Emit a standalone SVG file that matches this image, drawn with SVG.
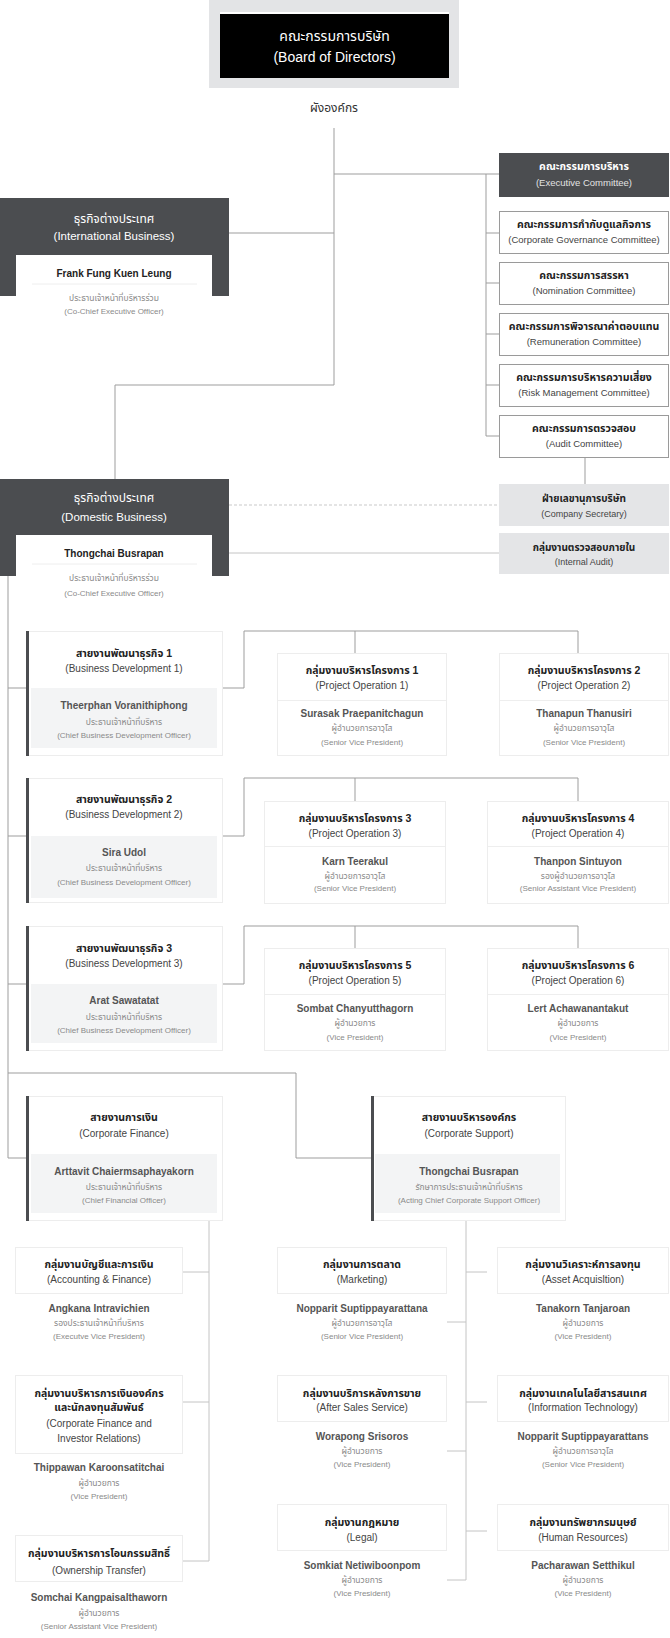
<svg xmlns="http://www.w3.org/2000/svg" width="670" height="1638" viewBox="0 0 670 1638">
<style>
text{font-family:"Liberation Sans","Noto Sans Thai","Noto Sans",sans-serif;text-anchor:middle}
.dk{fill:#4b4d50}
.ln{stroke:#9d9d9d;stroke-width:1;fill:none}
.dash{stroke:#c9c9c9;stroke-width:1;stroke-dasharray:3 2;fill:none}
.cm{fill:#fff;stroke:#9a9a9a;stroke-width:1}
.gy{fill:#e4e5e7}
.card{fill:#fff;stroke:#ededed;stroke-width:1}
.pnl{fill:#f3f4f5}
.sep{stroke:#eeeeee;stroke-width:1}
.w14{font-size:14px;fill:#fff}
.w12{font-size:12px;fill:#fff}
.w11{font-size:11.5px;fill:#fff}
.wh{font-size:10.5px;font-weight:bold;fill:#fff}
.ws{font-size:9.5px;fill:#e2e2e2}
.h{font-size:10.5px;font-weight:bold;fill:#222}
.s{font-size:10px;fill:#444}
.s9{font-size:9.5px;fill:#444}
.n{font-size:10px;font-weight:bold;fill:#555}
.nb{font-size:10px;font-weight:bold;fill:#222}
.r{font-size:8.5px;fill:#8a8a8a}
.re{font-size:8px;fill:#8a8a8a}
.lbl{font-size:12px;fill:#333}
</style>

<g id="connectors">
  <path class="ln" d="M334 128V385M334 174H499M486 174V436M486 233H499M486 283H499M486 334H499M486 385H499M486 436H499"/>
  <path class="ln" d="M229 233H334M334 385H115V479"/>
  <path class="ln" d="M585 458V484"/>
  <path class="dash" d="M229 505H499"/>
  <path class="ln" d="M229 553H499" style="stroke:#c4c4c4"/>
  <path class="ln" d="M8 576V1158H26M8 688H26M8 836H26M8 984H26M8 1073H296V1158H371"/>
  <path class="ln" d="M223 688H244V631H578M355 631V653M578 631V653"/>
  <path class="ln" d="M223 836H244V778H578M355 778V801M578 778V801"/>
  <path class="ln" d="M223 984H244V926H578M355 926V948M578 926V948"/>
  <path class="ln" d="M209 1220V1561H183M183 1272H209M183 1402H209" style="stroke:#c4c4c4"/>
  <path class="ln" d="M466 1220V1580H447M466 1272H487M447 1322H466M466 1402H487M447 1451H466M466 1531H487" style="stroke:#c4c4c4"/>
</g>

<g id="board">
  <rect x="209" y="0" width="250" height="88" fill="#e3e4e6"/>
  <rect x="220" y="12" width="229" height="66" fill="#fff"/>
  <rect x="220" y="14" width="229" height="64" fill="#000"/>
  <text x="334.5" y="41" class="w14">คณะกรรมการบริษัท</text>
  <text x="334.5" y="62" class="w14">(Board of Directors)</text>
</g>
<g id="chart-label"><text x="334" y="112" class="lbl">ผังองค์กร</text></g>

<g id="exec-committee">
  <rect x="499" y="153" width="170" height="44" class="dk"/>
  <text x="584" y="170" class="wh">คณะกรรมการบริหาร</text>
  <text x="584" y="185.5" class="ws">(Executive Committee)</text>
</g>
<g id="gov-committee">
  <rect x="499.5" y="211.5" width="169" height="42" class="cm"/>
  <text x="584" y="227.7" class="h">คณะกรรมการกำกับดูแลกิจการ</text>
  <text x="584" y="242.5" class="s9">(Corporate Governance Committee)</text>
</g>
<g id="nom-committee">
  <rect x="499.5" y="262.5" width="169" height="42" class="cm"/>
  <text x="584" y="278.7" class="h">คณะกรรมการสรรหา</text>
  <text x="584" y="293.5" class="s9">(Nomination Committee)</text>
</g>
<g id="rem-committee">
  <rect x="499.5" y="313.5" width="169" height="42" class="cm"/>
  <text x="584" y="329.7" class="h">คณะกรรมการพิจารณาค่าตอบแทน</text>
  <text x="584" y="344.5" class="s9">(Remuneration Committee)</text>
</g>
<g id="risk-committee">
  <rect x="499.5" y="364.5" width="169" height="42" class="cm"/>
  <text x="584" y="380.7" class="h">คณะกรรมการบริหารความเสี่ยง</text>
  <text x="584" y="395.5" class="s9">(Risk Management Committee)</text>
</g>
<g id="audit-committee">
  <rect x="499.5" y="415.5" width="169" height="42" class="cm"/>
  <text x="584" y="431.7" class="h">คณะกรรมการตรวจสอบ</text>
  <text x="584" y="446.5" class="s9">(Audit Committee)</text>
</g>
<g id="company-secretary">
  <rect x="499" y="484" width="170" height="42" class="gy"/>
  <text x="584" y="501.7" class="h" style="font-size:10px">ฝ่ายเลขานุการบริษัท</text>
  <text x="584" y="516.5" class="s" style="font-size:9px">(Company Secretary)</text>
</g>
<g id="internal-audit">
  <rect x="499" y="533" width="170" height="41" class="gy"/>
  <text x="584" y="550.7" class="h" style="font-size:10px">กลุ่มงานตรวจสอบภายใน</text>
  <text x="584" y="564.5" class="s" style="font-size:9px">(Internal Audit)</text>
</g>

<g id="international-business">
  <rect x="0" y="198" width="229" height="98" class="dk"/>
  <rect x="16" y="255" width="196" height="72" fill="#fff"/>
  <text x="114" y="223" class="w12">ธุรกิจต่างประเทศ</text>
  <text x="114" y="240" class="w11">(International Business)</text>
  <text x="114" y="276.5" class="nb">Frank Fung Kuen Leung</text>
  <line x1="32" y1="284" x2="197" y2="284" class="sep"/>
  <text x="114" y="301" class="r">ประธานเจ้าหน้าที่บริหารร่วม</text>
  <text x="114" y="314" class="re">(Co-Chief Executive Officer)</text>
</g>
<g id="domestic-business">
  <rect x="0" y="479" width="229" height="97" class="dk"/>
  <rect x="16" y="535" width="196" height="72" fill="#fff"/>
  <text x="114" y="502" class="w12">ธุรกิจต่างประเทศ</text>
  <text x="114" y="521" class="w11">(Domestic Business)</text>
  <text x="114" y="556.5" class="nb">Thongchai Busrapan</text>
  <line x1="32" y1="564" x2="197" y2="564" class="sep"/>
  <text x="114" y="581" class="r">ประธานเจ้าหน้าที่บริหารร่วม</text>
  <text x="114" y="596" class="re">(Co-Chief Executive Officer)</text>
</g>

<g id="bd1">
  <rect x="26.5" y="631.5" width="196" height="124" class="card"/>
  <rect x="31" y="688" width="186" height="60" class="pnl"/>
  <rect x="26" y="631" width="3" height="125" class="dk"/>
  <text x="124" y="656.7" class="h">สายงานพัฒนาธุรกิจ 1</text>
  <text x="124" y="671.5" class="s">(Business Development 1)</text>
  <text x="124" y="709.3" class="n">Theerphan Voranithiphong</text>
  <text x="124" y="725" class="r">ประธานเจ้าหน้าที่บริหาร</text>
  <text x="124" y="737.8" class="re">(Chief Business Development Officer)</text>
</g>
<g id="bd2">
  <rect x="26.5" y="778.5" width="196" height="124" class="card"/>
  <rect x="31" y="836" width="186" height="62" class="pnl"/>
  <rect x="26" y="778" width="3" height="125" class="dk"/>
  <text x="124" y="802.7" class="h">สายงานพัฒนาธุรกิจ 2</text>
  <text x="124" y="817.5" class="s">(Business Development 2)</text>
  <text x="124" y="856.3" class="n">Sira Udol</text>
  <text x="124" y="871" class="r">ประธานเจ้าหน้าที่บริหาร</text>
  <text x="124" y="884.8" class="re">(Chief Business Development Officer)</text>
</g>
<g id="bd3">
  <rect x="26.5" y="926.5" width="196" height="124" class="card"/>
  <rect x="31" y="984" width="186" height="59" class="pnl"/>
  <rect x="26" y="926" width="3" height="125" class="dk"/>
  <text x="124" y="951.7" class="h">สายงานพัฒนาธุรกิจ 3</text>
  <text x="124" y="966.5" class="s">(Business Development 3)</text>
  <text x="124" y="1004.3" class="n">Arat Sawatatat</text>
  <text x="124" y="1020" class="r">ประธานเจ้าหน้าที่บริหาร</text>
  <text x="124" y="1032.8" class="re">(Chief Business Development Officer)</text>
</g>

<g id="po1">
  <rect x="277.5" y="653.5" width="169" height="102" class="card"/>
  <line x1="278" y1="700.5" x2="446" y2="700.5" class="sep"/>
  <text x="362" y="673.7" class="h">กลุ่มงานบริหารโครงการ 1</text>
  <text x="362" y="688.5" class="s">(Project Operation 1)</text>
  <text x="362" y="717.3" class="n">Surasak Praepanitchagun</text>
  <text x="362" y="731" class="r">ผู้อำนวยการอาวุโส</text>
  <text x="362" y="744.8" class="re">(Senior Vice President)</text>
</g>
<g id="po2">
  <rect x="499.5" y="653.5" width="169" height="102" class="card"/>
  <line x1="500" y1="700.5" x2="668" y2="700.5" class="sep"/>
  <text x="584" y="673.7" class="h">กลุ่มงานบริหารโครงการ 2</text>
  <text x="584" y="688.5" class="s">(Project Operation 2)</text>
  <text x="584" y="717.3" class="n">Thanapun Thanusiri</text>
  <text x="584" y="731" class="r">ผู้อำนวยการอาวุโส</text>
  <text x="584" y="744.8" class="re">(Senior Vice President)</text>
</g>
<g id="po3">
  <rect x="264.5" y="801.5" width="181" height="102" class="card"/>
  <line x1="265" y1="846.5" x2="445" y2="846.5" class="sep"/>
  <text x="355" y="821.7" class="h">กลุ่มงานบริหารโครงการ 3</text>
  <text x="355" y="836.5" class="s">(Project Operation 3)</text>
  <text x="355" y="865.3" class="n">Karn Teerakul</text>
  <text x="355" y="879" class="r">ผู้อำนวยการอาวุโส</text>
  <text x="355" y="890.8" class="re">(Senior Vice President)</text>
</g>
<g id="po4">
  <rect x="487.5" y="801.5" width="181" height="102" class="card"/>
  <line x1="488" y1="846.5" x2="668" y2="846.5" class="sep"/>
  <text x="578" y="821.7" class="h">กลุ่มงานบริหารโครงการ 4</text>
  <text x="578" y="836.5" class="s">(Project Operation 4)</text>
  <text x="578" y="865.3" class="n">Thanpon Sintuyon</text>
  <text x="578" y="879" class="r">รองผู้อำนวยการอาวุโส</text>
  <text x="578" y="890.8" class="re">(Senior Assistant Vice President)</text>
</g>
<g id="po5">
  <rect x="264.5" y="948.5" width="181" height="102" class="card"/>
  <line x1="265" y1="994.5" x2="445" y2="994.5" class="sep"/>
  <text x="355" y="968.7" class="h">กลุ่มงานบริหารโครงการ 5</text>
  <text x="355" y="983.5" class="s">(Project Operation 5)</text>
  <text x="355" y="1012.3" class="n">Sombat Chanyutthagorn</text>
  <text x="355" y="1026" class="r">ผู้อำนวยการ</text>
  <text x="355" y="1039.8" class="re">(Vice President)</text>
</g>
<g id="po6">
  <rect x="487.5" y="948.5" width="181" height="102" class="card"/>
  <line x1="488" y1="994.5" x2="668" y2="994.5" class="sep"/>
  <text x="578" y="968.7" class="h">กลุ่มงานบริหารโครงการ 6</text>
  <text x="578" y="983.5" class="s">(Project Operation 6)</text>
  <text x="578" y="1012.3" class="n">Lert Achawanantakut</text>
  <text x="578" y="1026" class="r">ผู้อำนวยการ</text>
  <text x="578" y="1039.8" class="re">(Vice President)</text>
</g>

<g id="corporate-finance">
  <rect x="26.5" y="1096.5" width="196" height="124" class="card"/>
  <rect x="31" y="1154" width="186" height="59" class="pnl"/>
  <rect x="26" y="1096" width="3" height="125" class="dk"/>
  <text x="124" y="1120.7" class="h">สายงานการเงิน</text>
  <text x="124" y="1136.5" class="s">(Corporate Finance)</text>
  <text x="124" y="1175.3" class="n">Arttavit Chaiermsaphayakorn</text>
  <text x="124" y="1190" class="r">ประธานเจ้าหน้าที่บริหาร</text>
  <text x="124" y="1202.8" class="re">(Chief Financial Officer)</text>
</g>
<g id="corporate-support">
  <rect x="371.5" y="1096.5" width="194" height="124" class="card"/>
  <rect x="375" y="1154" width="185" height="59" class="pnl"/>
  <rect x="371" y="1096" width="3" height="125" class="dk"/>
  <text x="469" y="1120.7" class="h">สายงานบริหารองค์กร</text>
  <text x="469" y="1136.5" class="s">(Corporate Support)</text>
  <text x="469" y="1175.3" class="n">Thongchai Busrapan</text>
  <text x="469" y="1190" class="r">รักษาการประธานเจ้าหน้าที่บริหาร</text>
  <text x="469" y="1202.8" class="re">(Acting Chief Corporate Support Officer)</text>
</g>

<g id="accounting-finance">
  <rect x="15.5" y="1247.5" width="167" height="46" class="card"/>
  <text x="99" y="1267.7" class="h">กลุ่มงานบัญชีและการเงิน</text>
  <text x="99" y="1282.5" class="s">(Accounting &amp; Finance)</text>
  <text x="99" y="1312.3" class="n">Angkana Intravichien</text>
  <text x="99" y="1326" class="r">รองประธานเจ้าหน้าที่บริหาร</text>
  <text x="99" y="1338.8" class="re">(Executve Vice President)</text>
</g>
<g id="cf-investor-relations">
  <rect x="15.5" y="1375.5" width="167" height="78" class="card"/>
  <text x="99" y="1396.7" class="h">กลุ่มงานบริหารการเงินองค์กร</text>
  <text x="99" y="1410.7" class="h">และนักลงทุนสัมพันธ์</text>
  <text x="99" y="1426.5" class="s">(Corporate Finance and</text>
  <text x="99" y="1441.5" class="s">Investor Relations)</text>
  <text x="99" y="1471.3" class="n">Thippawan Karoonsatitchai</text>
  <text x="99" y="1486" class="r">ผู้อำนวยการ</text>
  <text x="99" y="1498.8" class="re">(Vice President)</text>
</g>
<g id="ownership-transfer">
  <rect x="15.5" y="1535.5" width="167" height="46" class="card"/>
  <text x="99" y="1556.7" class="h">กลุ่มงานบริหารการโอนกรรมสิทธิ์</text>
  <text x="99" y="1573.5" class="s">(Ownership Transfer)</text>
  <text x="99" y="1601.3" class="n">Somchai Kangpaisalthaworn</text>
  <text x="99" y="1616" class="r">ผู้อำนวยการ</text>
  <text x="99" y="1628.8" class="re">(Senior Assistant Vice President)</text>
</g>
<g id="marketing">
  <rect x="277.5" y="1247.5" width="169" height="46" class="card"/>
  <text x="362" y="1267.7" class="h">กลุ่มงานการตลาด</text>
  <text x="362" y="1282.5" class="s">(Marketing)</text>
  <text x="362" y="1312.3" class="n">Nopparit Suptippayarattana</text>
  <text x="362" y="1326" class="r">ผู้อำนวยการอาวุโส</text>
  <text x="362" y="1338.8" class="re">(Senior Vice President)</text>
</g>
<g id="after-sales">
  <rect x="277.5" y="1375.5" width="169" height="46" class="card"/>
  <text x="362" y="1396.7" class="h">กลุ่มงานบริการหลังการขาย</text>
  <text x="362" y="1410.5" class="s">(After Sales Service)</text>
  <text x="362" y="1440.3" class="n">Worapong Srisoros</text>
  <text x="362" y="1454" class="r">ผู้อำนวยการ</text>
  <text x="362" y="1466.8" class="re">(Vice President)</text>
</g>
<g id="legal">
  <rect x="277.5" y="1504.5" width="169" height="46" class="card"/>
  <text x="362" y="1525.7" class="h">กลุ่มงานกฎหมาย</text>
  <text x="362" y="1540.5" class="s">(Legal)</text>
  <text x="362" y="1569.3" class="n">Somkiat Netiwiboonpom</text>
  <text x="362" y="1583" class="r">ผู้อำนวยการ</text>
  <text x="362" y="1595.8" class="re">(Vice President)</text>
</g>
<g id="asset-acquisition">
  <rect x="497.5" y="1247.5" width="171" height="46" class="card"/>
  <text x="583" y="1267.7" class="h">กลุ่มงานวิเคราะห์การลงทุน</text>
  <text x="583" y="1282.5" class="s">(Asset Acquisltion)</text>
  <text x="583" y="1312.3" class="n">Tanakorn Tanjaroan</text>
  <text x="583" y="1326" class="r">ผู้อำนวยการ</text>
  <text x="583" y="1338.8" class="re">(Vice President)</text>
</g>
<g id="information-technology">
  <rect x="497.5" y="1375.5" width="171" height="46" class="card"/>
  <text x="583" y="1396.7" class="h">กลุ่มงานเทคโนโลยีสารสนเทศ</text>
  <text x="583" y="1410.5" class="s">(Information Technology)</text>
  <text x="583" y="1440.3" class="n">Nopparit Suptippayarattans</text>
  <text x="583" y="1454" class="r">ผู้อำนวยการอาวุโส</text>
  <text x="583" y="1466.8" class="re">(Senior Vice President)</text>
</g>
<g id="human-resources">
  <rect x="497.5" y="1504.5" width="171" height="46" class="card"/>
  <text x="583" y="1525.7" class="h">กลุ่มงานทรัพยากรมนุษย์</text>
  <text x="583" y="1540.5" class="s">(Human Resources)</text>
  <text x="583" y="1569.3" class="n">Pacharawan Setthikul</text>
  <text x="583" y="1583" class="r">ผู้อำนวยการ</text>
  <text x="583" y="1595.8" class="re">(Vice President)</text>
</g>
</svg>
